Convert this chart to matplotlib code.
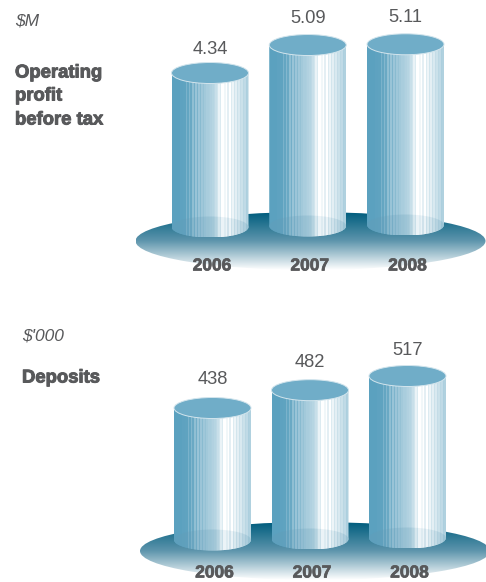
import numpy as np
import matplotlib.pyplot as plt
import matplotlib.patheffects as pe
from matplotlib.colors import LinearSegmentedColormap
from matplotlib.patches import Ellipse, PathPatch
from matplotlib.path import Path

W, H = 486, 582

years = ['2006', '2007', '2008']
profit = [4.34, 5.09, 5.11]
profit_labels = ['4.34', '5.09', '5.11']
deposits = [438, 482, 517]
deposit_labels = ['438', '482', '517']

GREY = '#58595b'
CAP = '#70adc8'
plt.rcParams['font.family'] = ['Liberation Sans', 'DejaVu Sans']

# shading across the cylinder, left to right, with the fine vertical bands
stripes = [0.00, 0.00, 0.00, 0.00, 0.00, 0.02, 0.02, 0.03, 0.03, 0.20, 0.06, 0.26, 0.10, 0.34, 0.16,
           0.40, 0.22, 0.42, 0.30, 0.44, 0.38, 0.46, 0.50, 0.50, 0.52, 0.55, 0.58, 0.62, 0.68, 0.74,
           0.88, 0.80, 1.00, 1.00, 0.92, 1.00, 0.84, 1.00, 0.80, 0.90, 0.74, 0.84, 0.70, 0.78, 0.66,
           0.70, 0.60, 0.64, 0.52, 0.54]
body_cmap = LinearSegmentedColormap.from_list('body', ['#5ba1bf', '#a9cddd', '#ffffff'])
foot_cmap = LinearSegmentedColormap.from_list('foot', ['#5f9fbc', '#9cc3d5', '#ffffff'])
plate_cmap = LinearSegmentedColormap.from_list('plate', ['#005d7e', '#5f96ad', '#ffffff'])


def draw_panel(values, labels, x0, dx, top_px, px_per_unit, base_px, plate, year_y, lift):
    ax = fig.add_axes([0, 0, 1, 1])
    ax.patch.set_alpha(0)
    ax.axis('off')
    xlim = ((0 - x0) / dx, (W - x0) / dx)
    # value axis is fixed from the first bar's top
    to_val = lambda py: values[0] + (top_px - py) / px_per_unit
    ylim = (to_val(H), to_val(0))
    rx, ry = 38.5 / dx, 10.5 / px_per_unit

    # platter under the bars
    cx, cy, prx, pry = plate
    grad = np.linspace(0, 1, 128).reshape(-1, 1)
    ext = [(cx - prx - x0) / dx, (cx + prx - x0) / dx, to_val(cy + pry), to_val(cy - pry)]
    im = ax.imshow(grad, cmap=plate_cmap, extent=ext, aspect='auto', origin='upper', zorder=1)
    disc = Ellipse(((cx - x0) / dx, to_val(cy)), 2 * prx / dx, 2 * pry / px_per_unit, fc='none', ec='none')
    ax.add_patch(disc)
    im.set_clip_path(disc)

    for i, v in enumerate(values):
        base = to_val(base_px - i)
        shade = np.array(stripes).reshape(1, -1)
        ext = [i - rx, i + rx, base - ry, v]
        k = 0.5523
        verts = [(i - rx, v), (i - rx, base),
                 (i - rx, base - k * ry), (i - k * rx, base - ry), (i, base - ry),
                 (i + k * rx, base - ry), (i + rx, base - k * ry), (i + rx, base),
                 (i + rx, v), (i - rx, v)]
        codes = [Path.MOVETO, Path.LINETO, Path.CURVE4, Path.CURVE4, Path.CURVE4,
                 Path.CURVE4, Path.CURVE4, Path.CURVE4, Path.LINETO, Path.CLOSEPOLY]
        outline = PathPatch(Path(verts, codes), fc='none', ec='none')
        ax.add_patch(outline)
        body = ax.imshow(shade, cmap=body_cmap, vmin=0, vmax=1, extent=ext, aspect='auto',
                         interpolation='nearest', zorder=2)
        body.set_clip_path(outline)

        # darker foot of the cylinder, its top rim shows faintly through the body
        foot = Ellipse((i, base), 2 * rx, 2 * ry, fc='none', ec='none')
        ax.add_patch(foot)
        foot_img = ax.imshow(shade * 0.88, cmap=foot_cmap, vmin=0, vmax=1, extent=ext, aspect='auto',
                             interpolation='nearest', zorder=3, alpha=0.8)
        foot_img.set_clip_path(foot)

        # cap
        ax.add_patch(Ellipse((i, v), 2 * rx, 2 * ry, fc=CAP, ec='#d3e5ed', lw=0.7, zorder=4))
        ax.text(i, v + lift[i] / px_per_unit, labels[i], ha='center', va='center',
                fontsize=13.2, color=GREY, zorder=5)
        ax.text(i + 2 / dx, to_val(year_y), years[i], ha='center', va='center', fontsize=12.5,
                fontweight='bold', color=GREY, zorder=5,
                path_effects=[pe.withStroke(linewidth=0.5, foreground=GREY)])

    ax.set_xlim(xlim)
    ax.set_ylim(ylim)
    return ax


fig = plt.figure(figsize=(W / 100, H / 100), dpi=100, facecolor='white')

draw_panel(profit, profit_labels, 210, 97.75, 73, 37.3, 227, (310.5, 241, 175, 29), 266, [24, 27, 27])
draw_panel(deposits, deposit_labels, 212.5, 97.5, 408, 0.405, 540, (315, 551, 175, 29), 573, [28, 28, 26])


def side_text(x, y, s, **kw):
    fig.text(x / W, 1 - y / H, s, va='center', ha='left', color=GREY, **kw)


heavy = [pe.withStroke(linewidth=0.7, foreground=GREY)]
side_text(15, 21, '$M', style='italic', fontsize=12.5)
side_text(15, 73, 'Operating', fontweight='bold', fontsize=13.3, path_effects=heavy)
side_text(15, 96, 'profit', fontweight='bold', fontsize=13.3, path_effects=heavy)
side_text(15, 120, 'before tax', fontweight='bold', fontsize=13.3, path_effects=heavy)
side_text(22, 336, "$'000", style='italic', fontsize=12.5)
side_text(22, 378, 'Deposits', fontweight='bold', fontsize=13.3, path_effects=heavy)

fig.savefig('out.png', dpi=100)
